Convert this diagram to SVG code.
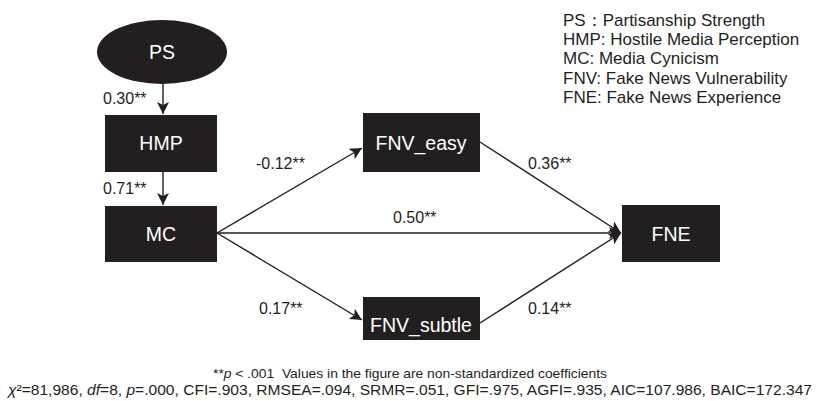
<svg xmlns="http://www.w3.org/2000/svg" width="822" height="401" viewBox="0 0 822 401">
<style>
.node{fill:#231f20}
.nt{fill:#fff;font-family:"Liberation Sans",Arial,sans-serif;font-size:19.5px;text-anchor:middle}
.lbl{fill:#231f20;font-family:"Liberation Sans",Arial,sans-serif;font-size:16px}
.leg{fill:#231f20;font-family:"Liberation Sans",Arial,sans-serif;font-size:17px}
.note{fill:#231f20;font-family:"Liberation Sans",Arial,sans-serif}
.edge{stroke:#231f20;stroke-width:1.4;fill:none}
</style>
<defs>
<marker id="ah" markerUnits="userSpaceOnUse" markerWidth="14" markerHeight="12" refX="12" refY="6" orient="auto">
<path d="M0,0 L12,6 L0,12 L3,6 Z" fill="#231f20"/>
</marker>
</defs>
<rect width="822" height="401" fill="#fff"/>
<g id="connectors">
<line class="edge" x1="163" y1="84" x2="163" y2="114" marker-end="url(#ah)"/>
<line class="edge" x1="163" y1="172" x2="163" y2="205" marker-end="url(#ah)"/>
<line class="edge" x1="217" y1="233" x2="362" y2="148" marker-end="url(#ah)"/>
<line class="edge" x1="217" y1="233" x2="621" y2="233" marker-end="url(#ah)"/>
<line class="edge" x1="217" y1="233" x2="362" y2="320" marker-end="url(#ah)"/>
<line class="edge" x1="480" y1="142" x2="621" y2="233" marker-end="url(#ah)"/>
<line class="edge" x1="480" y1="323" x2="621" y2="233" marker-end="url(#ah)"/>
<text class="lbl" x="103" y="104">0.30**</text>
<text class="lbl" x="103" y="194">0.71**</text>
<text class="lbl" x="256" y="169">-0.12**</text>
<text class="lbl" x="528" y="169">0.36**</text>
<text class="lbl" x="393" y="223">0.50**</text>
<text class="lbl" x="259" y="314">0.17**</text>
<text class="lbl" x="528" y="314">0.14**</text>
</g>
<g id="PS"><ellipse class="node" cx="162" cy="52" rx="65" ry="32"/><text class="nt" x="162" y="59">PS</text></g>
<g id="HMP"><rect class="node" x="105" y="115" width="112" height="57"/><text class="nt" x="161" y="150">HMP</text></g>
<g id="MC"><rect class="node" x="105" y="206" width="112" height="56"/><text class="nt" x="161" y="241">MC</text></g>
<g id="FNV_easy"><rect class="node" x="363" y="113" width="117" height="59"/><text class="nt" x="421" y="150">FNV_easy</text></g>
<g id="FNV_subtle"><rect class="node" x="363" y="297" width="117" height="43"/><text class="nt" x="421" y="332">FNV_subtle</text></g>
<g id="FNE"><rect class="node" x="622" y="205" width="98" height="57"/><text class="nt" x="671" y="241">FNE</text></g>
<g id="legend">
<text class="leg" x="563" y="26">PS：Partisanship Strength</text>
<text class="leg" x="563" y="45">HMP: Hostile Media Perception</text>
<text class="leg" x="563" y="64">MC: Media Cynicism</text>
<text class="leg" x="563" y="84">FNV: Fake News Vulnerability</text>
<text class="leg" x="563" y="103">FNE: Fake News Experience</text>
</g>
<g id="notes">
<text class="note" x="213" y="378" font-size="13" textLength="394" lengthAdjust="spacingAndGlyphs">**<tspan font-style="italic">p</tspan> &lt; .001 &#160;Values in the figure are non-standardized coefficients</text>
<text class="note" x="8" y="395" font-size="14.5" textLength="804" lengthAdjust="spacingAndGlyphs"><tspan font-style="italic">χ</tspan>²=81,986, <tspan font-style="italic">df</tspan>=8, <tspan font-style="italic">p</tspan>=.000, CFI=.903, RMSEA=.094, SRMR=.051, GFI=.975, AGFI=.935, AIC=107.986, BAIC=172.347</text>
</g>
</svg>
